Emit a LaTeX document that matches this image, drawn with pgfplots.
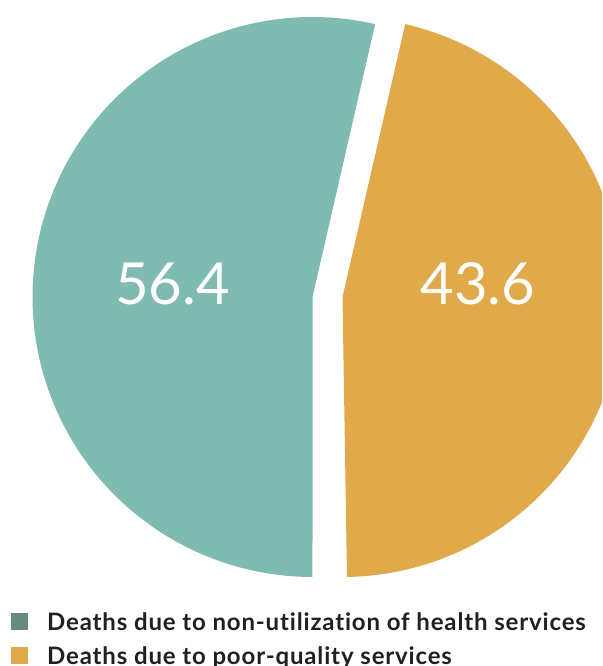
\documentclass[border=0pt]{standalone}
\usepackage{pgfplots}
\pgfplotsset{compat=1.18}
\usepackage{pgfplotstable}
\usepackage{fontspec}
\setmainfont{Lato}[Ligatures=NoCommon]
\newfontfamily\legfont{Lato}[Ligatures=NoCommon, LetterSpace=3.5]
\newfontfamily\numfont{Lato}
\definecolor{pieteal}{RGB}{127,187,176}
\definecolor{pieorange}{RGB}{224,169,74}
\definecolor{legteal}{RGB}{104,138,126}
\definecolor{textc}{RGB}{35,31,32}
% shares of deaths (percent)
\pgfplotstableread{
label value
nonutil 56.4
poorqual 43.6
}\sharetable
\begin{document}
\begin{tikzpicture}
\useasboundingbox (0,0) rectangle (602pt,666pt);
\clip (0,0) rectangle (602pt,666pt);
\begin{axis}[at={(0,0)}, anchor=south west,
  width=602pt, height=666pt, scale only axis,
  xmin=0, xmax=602, ymin=0, ymax=666,
  hide axis, clip=true,
  legend cell align=left,
  legend style={at={(axis cs:11,54)}, anchor=north west, draw=none, fill=none,
    inner sep=0pt, row sep=10pt, column sep=0pt,
    font=\legfont\fontsize{24}{28}\selectfont\bfseries, text=textc,
    nodes={inner sep=0pt, anchor=base west, text height=18pt, text depth=6pt}},
]
% teal sector (56.4), exploded to the left
\addplot[fill=pieteal, draw=none, domain=77.06:270, samples=181, variable=\t,
  legend image code/.code={\fill[legteal] (0pt,0.5pt) rectangle (17pt,17pt); \path (36pt,0pt);}]
  ({312.5+280*cos(t)},{369+280*sin(t)}) -- (axis cs:312.5,369) -- cycle;
\addlegendentry{Deaths due to non-utilization of health services}
% orange sector (43.6)
\addplot[fill=pieorange, draw=none, domain=-89.08:77.06, samples=181, variable=\t,
  legend image code/.code={\fill[pieorange] (0pt,0.5pt) rectangle (17pt,17pt); \path (36pt,0pt);}]
  ({342.5+280*cos(t)},{369+280*sin(t)}) -- (axis cs:342.5,369) -- cycle;
\addlegendentry{Deaths due to poor-quality services}
\node[text=white, font=\numfont\fontsize{58}{58}\selectfont] at (axis cs:172.5,382) {56.4};
\node[text=white, font=\numfont\fontsize{58}{58}\selectfont] at (axis cs:478,382) {43.6};
\end{axis}
\end{tikzpicture}
\end{document}
